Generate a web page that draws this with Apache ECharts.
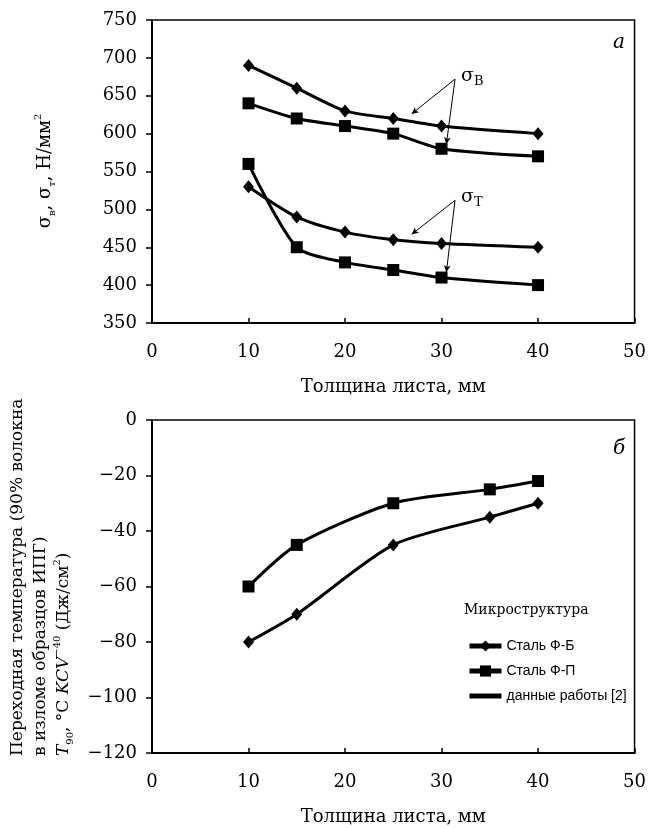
<!DOCTYPE html>
<html>
<head>
<meta charset="utf-8">
<script src="https://cdn.jsdelivr.net/npm/echarts@6/dist/echarts.min.js"></script>
<style>
html,body{margin:0;padding:0;background:#fff;}
#c1{width:649px;height:828px;}
</style>
</head>
<body>
<div id="c1"></div>
<script>
// верхний график (а): прочность
var a_x = [10, 15, 20, 25, 30, 40];
var a_sb_fb = [690, 660, 630, 620, 610, 600];
var a_sb_fp = [640, 620, 610, 600, 580, 570];
var a_st_fb = [530, 490, 470, 460, 455, 450];
var a_st_fp = [560, 450, 430, 420, 410, 400];

// нижний график (б): переходная температура
var b_x = [10, 15, 25, 35, 40];
var b_fb = [-80, -70, -45, -35, -30];
var b_fp = [-60, -45, -30, -25, -22];

var x_ticks = [0, 10, 20, 30, 40, 50];
var a_y_ticks = [350, 400, 450, 500, 550, 600, 650, 700, 750];
var b_y_ticks = [-120, -100, -80, -60, -40, -20, 0];

var serif = 'DejaVu Serif';
var sans = 'Liberation Sans';

function pairs(xs, ys) {
    var out = [];
    for (var i = 0; i < xs.length; i++) out.push([xs[i], ys[i]]);
    return out;
}

function x_axis(idx) {
    return {
        type: 'value', gridIndex: idx, min: x_ticks[0], max: x_ticks[x_ticks.length - 1], interval: 10,
        name: 'Толщина листа, мм', nameLocation: 'middle', nameGap: 55,
        nameTextStyle: {fontFamily: serif, fontSize: 18, color: '#000'},
        axisLine: {onZero: false, lineStyle: {color: '#000', width: 2}},
        axisTick: {inside: true, length: 5, lineStyle: {color: '#000', width: 1.5}},
        axisLabel: {fontFamily: serif, fontSize: 18, color: '#000', margin: 20},
        splitLine: {show: false}
    };
}

function y_axis(idx, ticks) {
    return {
        type: 'value', gridIndex: idx, min: ticks[0], max: ticks[ticks.length - 1],
        interval: ticks[1] - ticks[0],
        axisLine: {onZero: false, lineStyle: {color: '#000', width: 2}},
        axisTick: {inside: false, length: 6, lineStyle: {color: '#000', width: 1.5}},
        axisLabel: {fontFamily: serif, fontSize: 18, color: '#000', margin: 15,
            formatter: function (v) { return v < 0 ? '\u2212' + (-v) : String(v); }},
        splitLine: {show: false}
    };
}

function line_series(name, xi, data, symbol, size) {
    return {
        name: name, type: 'line', xAxisIndex: xi, yAxisIndex: xi,
        data: data, smooth: 0.25, symbol: symbol, symbolSize: size,
        lineStyle: {color: '#000', width: 3},
        itemStyle: {color: '#000'},
        emphasis: {disabled: true}, z: 3
    };
}

var arrow_line = {
    silent: true, symbol: ['none', 'arrow'], symbolSize: [5, 7],
    lineStyle: {color: '#000', width: 1, type: 'solid'}, label: {show: false}
};

var sb = line_series('σв ФБ', 0, pairs(a_x, a_sb_fb), 'diamond', [11, 13]);
sb.markLine = Object.assign({data: [
    [{coord: [31.4, 672]}, {coord: [26.9, 626]}],
    [{coord: [31.4, 672]}, {coord: [30.5, 586]}]
]}, arrow_line);
var st = line_series('σт ФБ', 0, pairs(a_x, a_st_fb), 'diamond', [11, 13]);
st.markLine = Object.assign({data: [
    [{coord: [31.4, 512]}, {coord: [26.9, 467]}],
    [{coord: [31.4, 512]}, {coord: [30.5, 417]}]
]}, arrow_line);

var chart = echarts.init(document.getElementById('c1'));
chart.setOption({
    backgroundColor: '#fff',
    animation: false,
    grid: [
        {left: 152, right: 12, top: 20, height: 303, show: true, borderColor: '#000', borderWidth: 1.5},
        {left: 152, right: 12, top: 420, height: 333, show: true, borderColor: '#000', borderWidth: 1.5}
    ],
    xAxis: [x_axis(0), x_axis(1)],
    yAxis: [y_axis(0, a_y_ticks), y_axis(1, b_y_ticks)],
    legend: {
        data: ['Сталь Ф-Б', 'Сталь Ф-П',
            {name: 'данные работы [2]', itemStyle: {opacity: 0}}],
        orient: 'vertical', left: 462, top: 634, itemWidth: 32, itemHeight: 14, itemGap: 11,
        lineStyle: {width: 5},
        textStyle: {fontFamily: sans, fontSize: 14, color: '#000'},
        selectedMode: false
    },
    series: [
        sb,
        line_series('σв ФП', 0, pairs(a_x, a_sb_fp), 'rect', 12),
        st,
        line_series('σт ФП', 0, pairs(a_x, a_st_fp), 'rect', 12),
        line_series('Сталь Ф-Б', 1, pairs(b_x, b_fb), 'diamond', [11, 13]),
        line_series('Сталь Ф-П', 1, pairs(b_x, b_fp), 'rect', 12),
        line_series('данные работы [2]', 1, [], 'none', 0)
    ],
    graphic: [
        {type: 'text', x: 45, y: 171, rotation: Math.PI / 2,
            style: {text: 'σ{s|в}, σ{s|т}, Н/мм{p|2}', fontFamily: serif, fontSize: 18, fill: '#000',
                align: 'center', verticalAlign: 'middle', lineHeight: 24,
                rich: {s: {fontSize: 10, lineHeight: 10, verticalAlign: 'bottom', fontFamily: serif},
                       p: {fontSize: 10, lineHeight: 10, verticalAlign: 'top', fontFamily: serif}}}},
        {type: 'text', x: 6, y: 756, rotation: Math.PI / 2,
            style: {text: 'Переходная температура (90% волокна\nв изломе образцов ИПГ)\n{i|T}{s|90}, °C {i|KCV}{p|\u221240} (Дж/см{p|2})',
                fontFamily: serif, fontSize: 17, fill: '#000', align: 'left', verticalAlign: 'top', lineHeight: 23,
                rich: {i: {fontStyle: 'italic', fontSize: 17, fontFamily: serif, lineHeight: 23},
                       s: {fontSize: 10, lineHeight: 10, verticalAlign: 'bottom', fontFamily: serif},
                       p: {fontSize: 10, lineHeight: 10, verticalAlign: 'top', fontFamily: serif}}}},
        {type: 'text', x: 613, y: 33,
            style: {text: 'a', fontFamily: serif, fontStyle: 'italic', fontSize: 20, fill: '#000'}},
        {type: 'text', x: 613, y: 439,
            style: {text: 'б', fontFamily: serif, fontStyle: 'italic', fontSize: 20, fill: '#000'}},
        {type: 'text', x: 461, y: 64,
            style: {text: 'σ{s|В}', fontFamily: serif, fontSize: 19, fill: '#000', lineHeight: 24,
                rich: {s: {fontSize: 13, lineHeight: 13, verticalAlign: 'bottom', fontFamily: serif}}}},
        {type: 'text', x: 461, y: 185,
            style: {text: 'σ{s|Т}', fontFamily: serif, fontSize: 19, fill: '#000', lineHeight: 24,
                rich: {s: {fontSize: 13, lineHeight: 13, verticalAlign: 'bottom', fontFamily: serif}}}},
        {type: 'text', x: 464, y: 603,
            style: {text: 'Микроструктура', fontFamily: serif, fontSize: 14, fill: '#000'}}
    ]
});
</script>
</body>
</html>
